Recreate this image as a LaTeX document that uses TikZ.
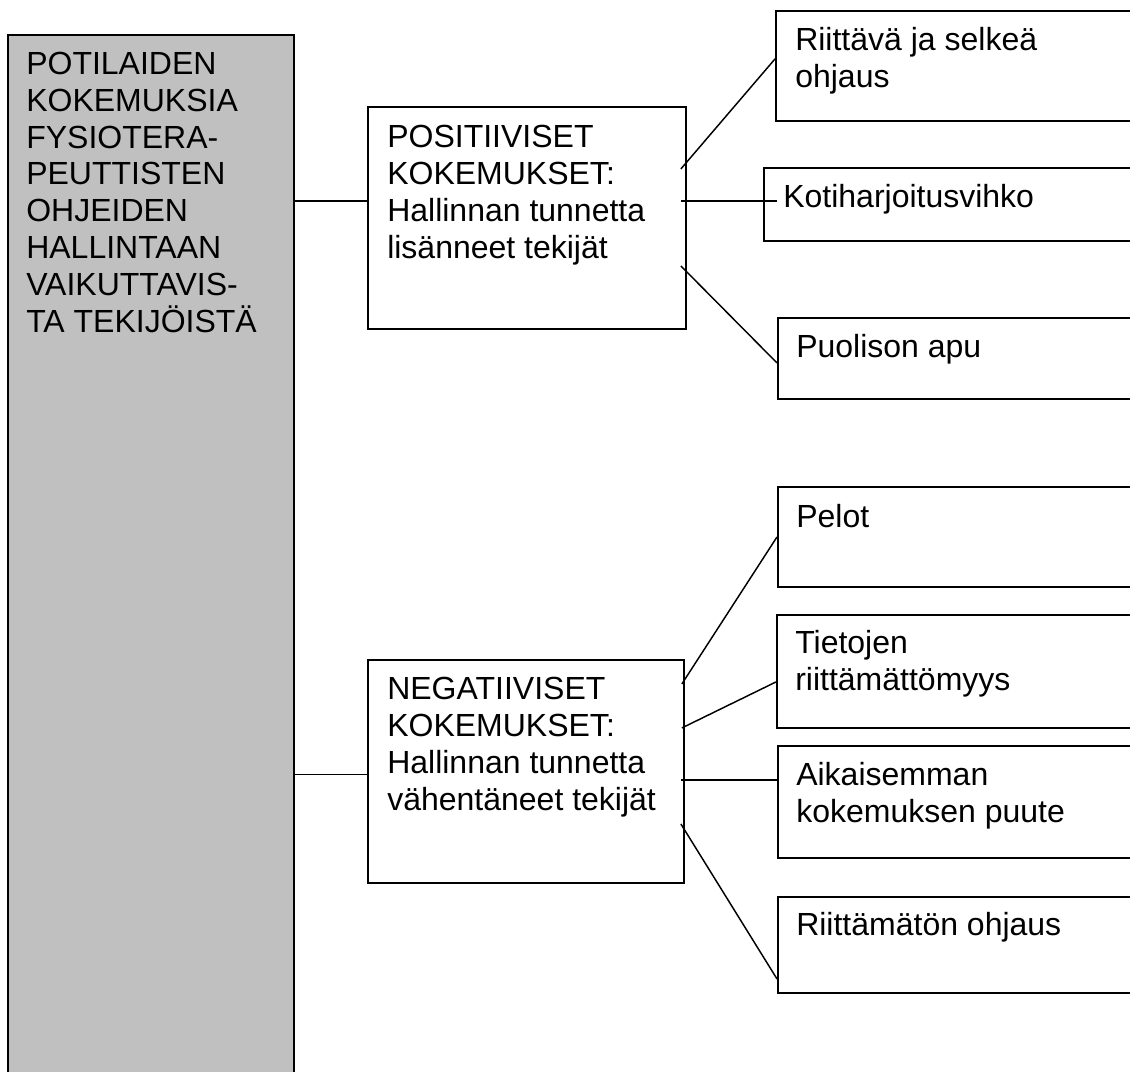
\documentclass[tikz,border=0pt]{standalone}
\usepackage{fontspec}
\setmainfont{Liberation Sans}
\usetikzlibrary{positioning,calc}
\definecolor{harmaa}{HTML}{C0C0C0}
\newlength{\px}
\setlength{\px}{0.75pt}

\begin{document}
\begin{tikzpicture}[x=0.75pt,y=-0.75pt,
    laatikko/.style={draw=black,line width=1.4pt,rectangle,anchor=north west,inner sep=0pt},
    teksti/.style={anchor=base west,align=left,inner sep=0pt,font=\fontsize{24}{27.6}\selectfont},
    viiva/.style={draw=black,line width=1.1pt}]
\useasboundingbox (0,0) rectangle (1130,1071);
\clip (0,0) rectangle (1130,1071);

% vasen harmaa laatikko (tekstin paikka = viimeisen rivin perusviiva)
\node[laatikko,fill=harmaa,minimum width=286\px,minimum height=1100\px] (paa) at (7,34) {};
\node[teksti] (paa-t) at (26,332) {POTILAIDEN\\KOKEMUKSIA\\FYSIOTERA-\\PEUTTISTEN\\OHJEIDEN\\HALLINTAAN\\VAIKUTTAVIS-\\TA TEKIJÖISTÄ};

% keskimmaiset laatikot
\node[laatikko,minimum width=318\px,minimum height=222\px] (pos) at (367,106) {};
\node[teksti] (pos-t) at (387,258) {POSITIIVISET\\KOKEMUKSET:\\Hallinnan tunnetta\\lisänneet tekijät};
\node[laatikko,minimum width=316\px,minimum height=223\px] (neg) at (367,659) {};
\node[teksti] (neg-t) at (387,810) {NEGATIIVISET\\KOKEMUKSET:\\Hallinnan tunnetta\\vähentäneet tekijät};

% oikeat laatikot
\node[laatikko,minimum width=425\px,minimum height=110\px] (riit) at (775,10) {};
\node[teksti] (riit-t) at (795,87) {Riittävä ja selkeä\\ohjaus};
\node[laatikko,minimum width=437\px,minimum height=73\px] (koti) at (763,167) {};
\node[teksti] (koti-t) at (783,207) {Kotiharjoitusvihko};
\node[laatikko,minimum width=423\px,minimum height=81\px] (puol) at (777,317) {};
\node[teksti] (puol-t) at (796,357) {Puolison apu};

\node[laatikko,minimum width=423\px,minimum height=100\px] (pelot) at (777,486) {};
\node[teksti] (pelot-t) at (796,527) {Pelot};
\node[laatikko,minimum width=424\px,minimum height=113\px] (tiet) at (776,614) {};
\node[teksti] (tiet-t) at (795,690) {Tietojen\\riittämättömyys};
\node[laatikko,minimum width=423\px,minimum height=112\px] (aik) at (777,745) {};
\node[teksti] (aik-t) at (796,822) {Aikaisemman\\kokemuksen puute};
\node[laatikko,minimum width=423\px,minimum height=96\px] (riitm) at (777,896) {};
\node[teksti] (riitm-t) at (796,935) {Riittämätön ohjaus};

% viivat
\coordinate (pos-v) at ($(pos.west)+(0,-17)$);
\coordinate (neg-v) at ($(neg.west)+(0,3)$);
\draw[viiva] (paa.east |- pos-v) -- (pos-v);
\draw[viiva] (paa.east |- neg-v) -- (neg-v);

\draw[viiva] ($(pos.east)+(-6,-49)$) -- ($(riit.west)+(0,-7)$);
\draw[viiva] ($(pos.east)+(-6,-17)$) -- ($(koti.west)+(14,-3.5)$);
\draw[viiva] ($(pos.east)+(-6,48)$) -- ($(puol.west)+(0,4.5)$);

\draw[viiva] ($(neg.east)+(-3,-87.5)$) -- (pelot.west);
\draw[viiva] ($(neg.east)+(-3,-43.5)$) -- ($(tiet.west)+(0,10.5)$);
\draw[viiva] ($(neg.east)+(-4,8.5)$) -- ($(aik.west)+(0,-22)$);
\draw[viiva] ($(neg.east)+(-4,52.5)$) -- ($(riitm.west)+(0,34)$);
\end{tikzpicture}
\end{document}
